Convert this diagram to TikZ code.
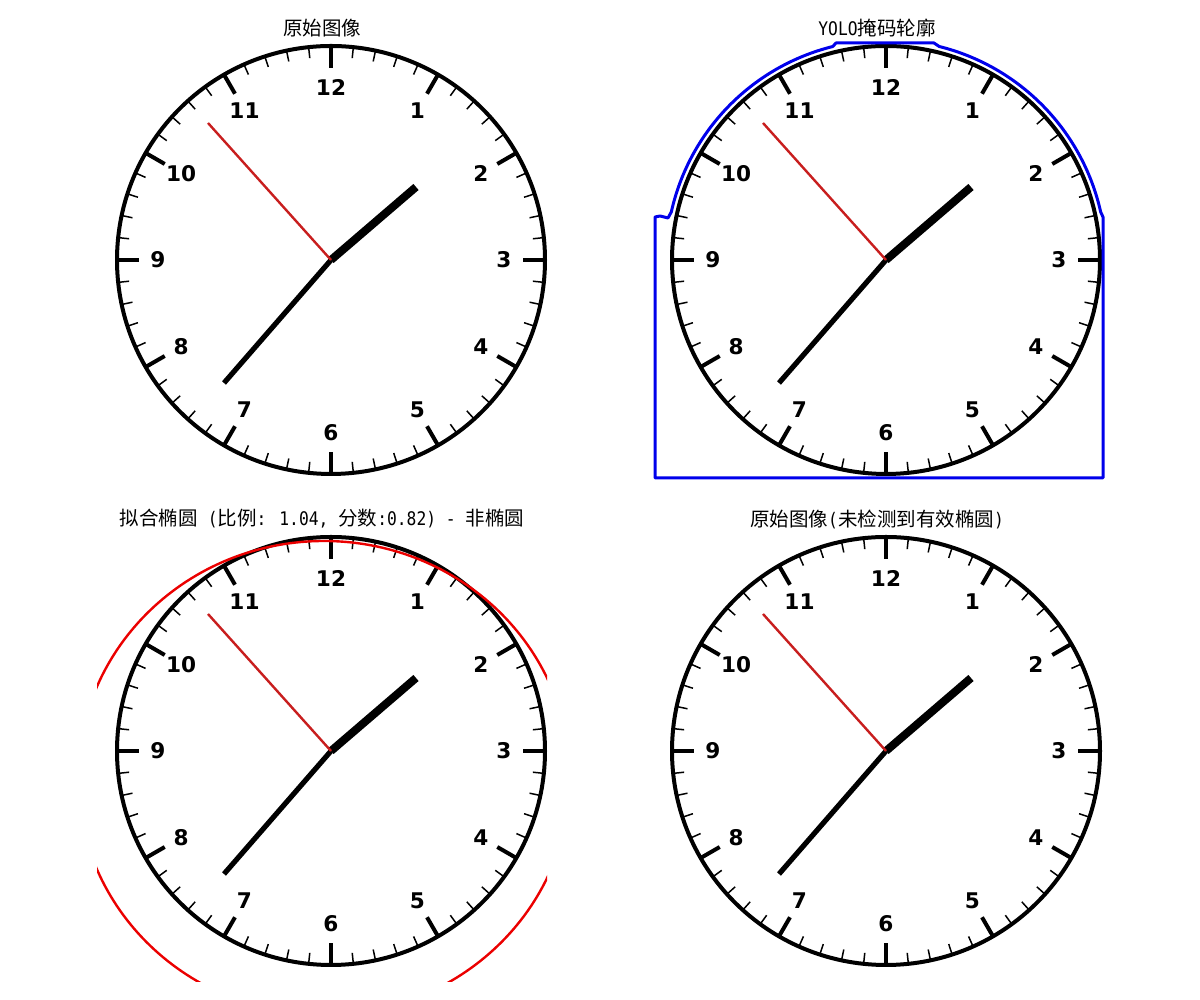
\documentclass[tikz,border=0pt]{standalone}
\usepackage{fontspec}
\usepackage{xcolor}
\usepackage{tikz}
\newfontfamily\cjk{Noto Sans CJK SC}
\newfontfamily\titlemono{DejaVu Sans Mono}[Scale=0.96,FakeStretch=0.87]
\newfontfamily\dejavu{DejaVu Sans}
\newcommand\lat[1]{{\titlemono #1}}
\definecolor{handred}{RGB}{200,30,30}
\definecolor{fitred}{RGB}{235,0,0}
\definecolor{maskblue}{RGB}{0,0,235}
\tikzset{
    title/.style={font=\cjk\fontsize{9.75}{11}\selectfont},
    hournum/.style={font=\dejavu\bfseries\fontsize{10.8}{12}\selectfont}
}

\begin{document}
\begin{tikzpicture}[x=0.5pt,y=0.5pt]
        \useasboundingbox (0,0) rectangle (1200,1000);
        % 四个表盘
        \foreach \p/\cx/\cy in {1/331/740, 2/886/740, 3/331/249, 4/886/249} {
            \begin{scope}[shift={(\cx,\cy)}]
                % 绘制刻度
                \foreach \i in {0,...,59}
                    \draw[line width=0.75pt] (\i*6:214) -- (\i*6:203);
                \foreach \i in {0,...,11}
                    \draw[line width=2pt] (\i*30:214) -- (\i*30:192);
                \draw[line width=2pt] (0,0) circle[radius=214];
                % 绘制数字
                \foreach \h in {1,...,12}
                    \node[hournum] (h\p-\h) at (90-30*\h:173) {\h};
                % 绘制指针
                \draw[line width=2.6pt] (0,0) -- (-107,-123);
                \draw[line width=4pt] (0,0) -- (85,73);
                \draw[handred, line width=1.2pt] (0,0) -- (-123,137);
            \end{scope}
        }
        % 标题
        \node[title] (t1) at (322,972) {原始图像};
        \node[title] (t2) at (877,972) {\lat{YOLO}掩码轮廓};
        \node[title] (t3) at (322,481) {拟合椭圆\lat{ (}比例\lat{: 1.04, }分数\lat{:0.82) - }非椭圆};
        \node[title] (t4) at (877,481) {原始图像\lat{(}未检测到有效椭圆\lat{)}};
        % 掩码轮廓
        \draw[maskblue, line width=1.5pt, line join=round] (655,522) -- (655,783) -- (660,784) -- (668,782) -- (671.3,788)
            arc[start angle=167.4, end angle=104, radius=220] -- (836,957) -- (934,957) -- (939.2,953.5)
            arc[start angle=76, end angle=12.6, radius=220] -- (1103,783) -- (1103,522) -- cycle;
        % 拟合椭圆
        \begin{scope}
            \clip (97,18) rectangle (547,466);
            \draw[fitred, line width=1.2pt] (324,222) ellipse[x radius=246, y radius=237];
        \end{scope}
\end{tikzpicture}
\end{document}
